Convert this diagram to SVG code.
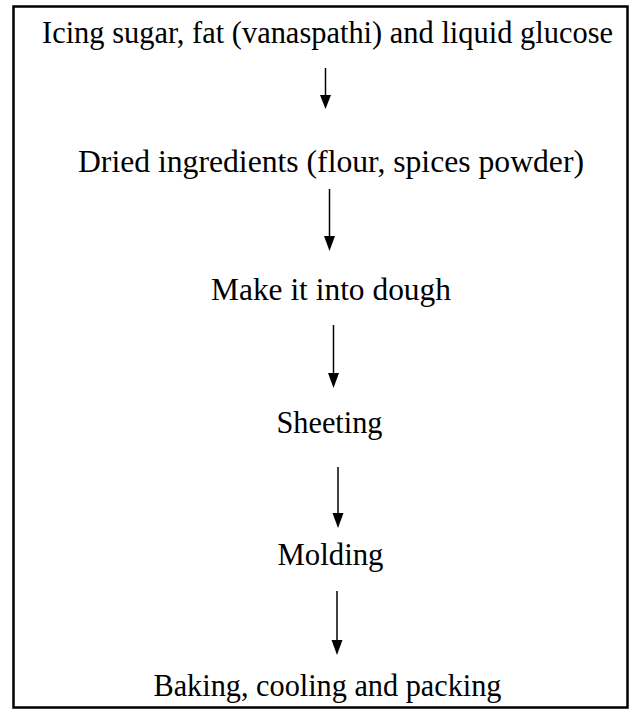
<svg xmlns="http://www.w3.org/2000/svg" width="640" height="725" viewBox="0 0 640 725">
<style>
.t{font-family:"Liberation Serif","Times New Roman",Tinos,serif;font-size:31px;fill:#000;text-anchor:middle}
.c{stroke:#000;stroke-width:1.5;fill:none}
.h{fill:#000}
</style>
<rect x="0" y="0" width="640" height="725" fill="#fff"/>
<rect id="frame" x="13.5" y="6.5" width="614" height="701" fill="none" stroke="#000" stroke-width="2.5"/>
<g id="n1"><text class="t" x="327.5" y="43" textLength="571" lengthAdjust="spacingAndGlyphs">Icing sugar, fat (vanaspathi) and liquid glucose</text></g>
<g id="n2"><text class="t" x="331" y="172" textLength="506" lengthAdjust="spacingAndGlyphs">Dried ingredients (flour, spices powder)</text></g>
<g id="n3"><text class="t" x="331" y="300" textLength="240" lengthAdjust="spacingAndGlyphs">Make it into dough</text></g>
<g id="n4"><text class="t" x="329.5" y="433" textLength="106" lengthAdjust="spacingAndGlyphs">Sheeting</text></g>
<g id="n5"><text class="t" x="330.5" y="565" textLength="106" lengthAdjust="spacingAndGlyphs">Molding</text></g>
<g id="n6"><text class="t" x="327.5" y="696" textLength="348" lengthAdjust="spacingAndGlyphs">Baking, cooling and packing</text></g>
<g id="connectors">
<line class="c" x1="325.5" y1="68" x2="325.5" y2="97"/>
<path class="h" d="M320,95 L331,95 L325.5,109 Z"/>
<line class="c" x1="329.5" y1="189" x2="329.5" y2="238"/>
<path class="h" d="M324,236 L335,236 L329.5,251 Z"/>
<line class="c" x1="333.5" y1="325" x2="333.5" y2="375"/>
<path class="h" d="M328,373 L339,373 L333.5,388 Z"/>
<line class="c" x1="338" y1="467" x2="338" y2="515"/>
<path class="h" d="M332.5,513 L343.5,513 L338,528 Z"/>
<line class="c" x1="337" y1="591" x2="337" y2="642"/>
<path class="h" d="M331.5,640 L342.5,640 L337,655 Z"/>
</g>
</svg>
